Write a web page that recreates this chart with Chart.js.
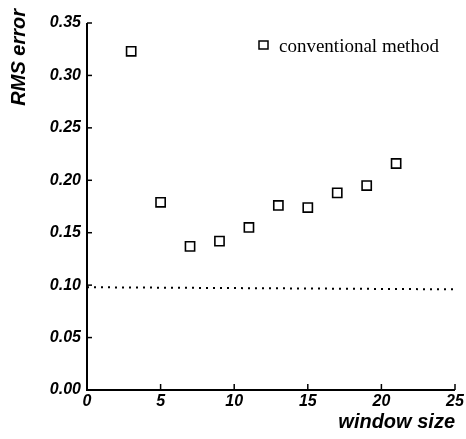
<!DOCTYPE html>
<html>
<head>
<meta charset="utf-8">
<script src="https://cdn.jsdelivr.net/npm/chart.js@4/dist/chart.umd.min.js"></script>
<style>
html,body{margin:0;padding:0;background:#fff;}
#wrap{width:466px;height:439px;position:relative;}
</style>
</head>
<body>
<div id="wrap"><canvas id="c" width="466" height="439"></canvas></div>
<script>
const windowSizes = [3, 5, 7, 9, 11, 13, 15, 17, 19, 21];
const rmsError = [0.323, 0.179, 0.137, 0.142, 0.155, 0.176, 0.174, 0.188, 0.195, 0.216];
const referenceX = [0, 25];
const referenceY = [0.098, 0.096];
const seriesLabel = 'conventional method';
const xTitle = 'window size';
const yTitle = 'RMS error';

const tickFont = {family: 'Liberation Sans, Arial, sans-serif', size: 16, weight: 'bold', style: 'italic'};

const decor = {
  id: 'decor',
  afterDraw(chart) {
    const ctx = chart.ctx;
    const xs = chart.scales.x, ys = chart.scales.y;
    const ca = chart.chartArea;
    ctx.save();
    ctx.strokeStyle = '#000';
    ctx.lineWidth = 2;
    ctx.beginPath();
    ctx.moveTo(ca.left, ca.top);
    ctx.lineTo(ca.left, ca.bottom);
    ctx.lineTo(ca.right, ca.bottom);
    ctx.stroke();
    ctx.lineWidth = 1.5;
    ys.ticks.forEach(t => {
      const p = ys.getPixelForValue(t.value);
      ctx.beginPath(); ctx.moveTo(ca.left, p); ctx.lineTo(ca.left + 5, p); ctx.stroke();
    });
    xs.ticks.forEach(t => {
      const p = xs.getPixelForValue(t.value);
      ctx.beginPath(); ctx.moveTo(p, ca.bottom); ctx.lineTo(p, ca.bottom - 6); ctx.stroke();
    });
    ctx.fillStyle = '#000';
    ctx.font = 'italic bold 20px "Liberation Sans", Arial, sans-serif';
    ctx.textAlign = 'right';
    ctx.textBaseline = 'alphabetic';
    ctx.fillText(xTitle, ca.right, 428);
    ctx.save();
    ctx.translate(25, 9);
    ctx.rotate(-Math.PI / 2);
    ctx.textAlign = 'right';
    ctx.fillText(yTitle, 0, 0);
    ctx.restore();
    const ds = chart.data.datasets[0];
    ctx.lineWidth = 1.5;
    ctx.strokeStyle = '#000';
    ctx.fillStyle = '#fff';
    ctx.fillRect(259, 41, 9, 8);
    ctx.strokeRect(259, 41, 9, 8);
    ctx.fillStyle = '#000';
    ctx.font = '19px "Liberation Serif", "Times New Roman", serif';
    ctx.textAlign = 'left';
    ctx.fillText(ds.label, 279, 52);
    ctx.restore();
  }
};

new Chart(document.getElementById('c'), {
  type: 'scatter',
  data: {
    datasets: [
      {
        label: seriesLabel,
        data: windowSizes.map((x, i) => ({x: x, y: rmsError[i]})),
        pointStyle: 'rect',
        pointRadius: 6.5,
        pointBorderWidth: 1.6,
        pointBackgroundColor: '#fff',
        pointBorderColor: '#000',
        showLine: false
      },
      {
        label: 'reference',
        type: 'line',
        data: referenceX.map((x, i) => ({x: x, y: referenceY[i]})),
        borderColor: '#000',
        borderWidth: 2,
        borderDash: [2, 5],
        pointRadius: 0,
        fill: false
      }
    ]
  },
  options: {
    responsive: false,
    animation: false,
    layout: {padding: {top: 23, right: 11, left: 0, bottom: 0}},
    plugins: {legend: {display: false}, tooltip: {enabled: false}},
    scales: {
      x: {
        type: 'linear', min: 0, max: 25,
        ticks: {stepSize: 5, color: '#000', font: tickFont, padding: 2},
        grid: {display: false, drawTicks: false},
        border: {display: false},
        afterFit(s) { s.height = 49; }
      },
      y: {
        type: 'linear', min: 0, max: 0.35,
        ticks: {stepSize: 0.05, color: '#000', font: tickFont, padding: 6, callback: v => v.toFixed(2)},
        grid: {display: false, drawTicks: false},
        border: {display: false},
        afterFit(s) { s.width = 87; }
      }
    }
  },
  plugins: [decor]
});
</script>
</body>
</html>
